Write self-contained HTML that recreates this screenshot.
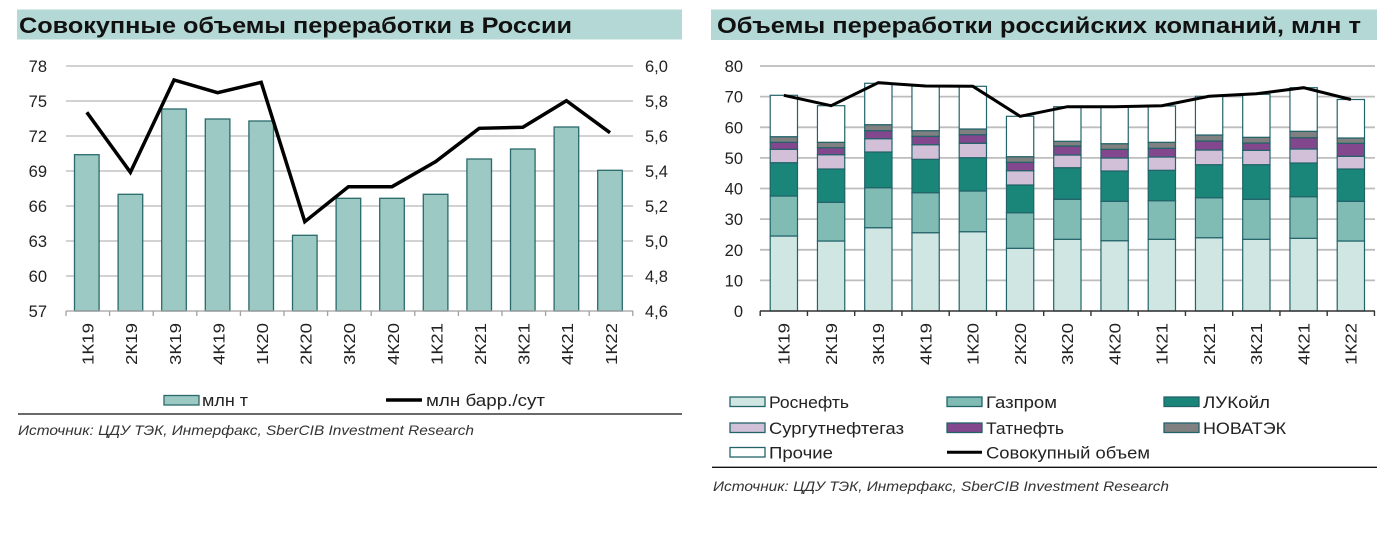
<!DOCTYPE html>
<html><head><meta charset="utf-8"><style>
html,body{margin:0;padding:0;background:#fff;}
svg{display:block;}
text{font-family:"Liberation Sans","DejaVu Sans",sans-serif;fill:#222;}
.t{font-weight:bold;font-size:22px;fill:#111;}
.yl{font-size:16.5px;}
.xl{font-size:16px;}
.lg{font-size:17px;}
.src{font-style:italic;font-size:14px;fill:#333;}
</style></head><body>
<svg width="1389" height="546" viewBox="0 0 1389 546" xmlns="http://www.w3.org/2000/svg">
<rect width="1389" height="546" fill="#fff"/>

<!-- ================= LEFT CHART ================= -->
<rect x="17" y="9.5" width="665" height="30" fill="#b3d8d5"/>
<text class="t" x="19" y="33" textLength="553" lengthAdjust="spacingAndGlyphs">Совокупные объемы переработки в России</text>

<g stroke="#c3c3c3" stroke-width="1.5">
<line x1="66" y1="66" x2="633" y2="66"/>
<line x1="66" y1="101" x2="633" y2="101"/>
<line x1="66" y1="136" x2="633" y2="136"/>
<line x1="66" y1="171" x2="633" y2="171"/>
<line x1="66" y1="206" x2="633" y2="206"/>
<line x1="66" y1="241" x2="633" y2="241"/>
<line x1="66" y1="276" x2="633" y2="276"/>
</g>

<g fill="#9cc9c4" stroke="#2a6a6b" stroke-width="1.3">
<rect x="74.5" y="154.7" width="24.6" height="156.3"/>
<rect x="118.1" y="194.3" width="24.6" height="116.7"/>
<rect x="161.7" y="109" width="24.6" height="202"/>
<rect x="205.3" y="119" width="24.6" height="192"/>
<rect x="248.9" y="121" width="24.6" height="190"/>
<rect x="292.5" y="235.3" width="24.6" height="75.7"/>
<rect x="336.1" y="198.3" width="24.6" height="112.7"/>
<rect x="379.7" y="198.3" width="24.6" height="112.7"/>
<rect x="423.3" y="194.3" width="24.6" height="116.7"/>
<rect x="466.9" y="159" width="24.6" height="152"/>
<rect x="510.5" y="149" width="24.6" height="162"/>
<rect x="554.1" y="127" width="24.6" height="184"/>
<rect x="597.7" y="170.3" width="24.6" height="140.7"/>
</g>

<g stroke="#a0a0a0" stroke-width="1.3">
<line x1="66" y1="311" x2="633" y2="311"/>
<line x1="66" y1="311" x2="66" y2="316"/>
<line x1="109.6" y1="311" x2="109.6" y2="316"/>
<line x1="153.2" y1="311" x2="153.2" y2="316"/>
<line x1="196.8" y1="311" x2="196.8" y2="316"/>
<line x1="240.4" y1="311" x2="240.4" y2="316"/>
<line x1="284" y1="311" x2="284" y2="316"/>
<line x1="327.6" y1="311" x2="327.6" y2="316"/>
<line x1="371.2" y1="311" x2="371.2" y2="316"/>
<line x1="414.8" y1="311" x2="414.8" y2="316"/>
<line x1="458.4" y1="311" x2="458.4" y2="316"/>
<line x1="502" y1="311" x2="502" y2="316"/>
<line x1="545.6" y1="311" x2="545.6" y2="316"/>
<line x1="589.2" y1="311" x2="589.2" y2="316"/>
<line x1="632.8" y1="311" x2="632.8" y2="316"/>
</g>

<polyline fill="none" stroke="#000" stroke-width="3.5" stroke-linejoin="miter"
points="86.8,112.3 130.4,172.3 174,80 217.6,92.7 261.2,82.3 304.8,221.7 348.4,186.7 392,186.7 435.6,161.7 479.2,128.3 522.8,127.3 566.4,100.7 610,132.7"/>

<g class="yl" text-anchor="end">
<text x="47" y="72">78</text>
<text x="47" y="107">75</text>
<text x="47" y="142">72</text>
<text x="47" y="177">69</text>
<text x="47" y="212">66</text>
<text x="47" y="247">63</text>
<text x="47" y="282">60</text>
<text x="47" y="317">57</text>
</g>
<g class="yl">
<text x="645" y="72">6,0</text>
<text x="645" y="107">5,8</text>
<text x="645" y="142">5,6</text>
<text x="645" y="177">5,4</text>
<text x="645" y="212">5,2</text>
<text x="645" y="247">5,0</text>
<text x="645" y="282">4,8</text>
<text x="645" y="317">4,6</text>
</g>

<g class="xl" text-anchor="end">
<text transform="translate(93.6,323) rotate(-90)" textLength="42" lengthAdjust="spacingAndGlyphs">1К19</text>
<text transform="translate(137.2,323) rotate(-90)" textLength="42" lengthAdjust="spacingAndGlyphs">2К19</text>
<text transform="translate(180.8,323) rotate(-90)" textLength="42" lengthAdjust="spacingAndGlyphs">3К19</text>
<text transform="translate(224.4,323) rotate(-90)" textLength="42" lengthAdjust="spacingAndGlyphs">4К19</text>
<text transform="translate(268,323) rotate(-90)" textLength="42" lengthAdjust="spacingAndGlyphs">1К20</text>
<text transform="translate(311.6,323) rotate(-90)" textLength="42" lengthAdjust="spacingAndGlyphs">2К20</text>
<text transform="translate(355.2,323) rotate(-90)" textLength="42" lengthAdjust="spacingAndGlyphs">3К20</text>
<text transform="translate(398.8,323) rotate(-90)" textLength="42" lengthAdjust="spacingAndGlyphs">4К20</text>
<text transform="translate(442.4,323) rotate(-90)" textLength="42" lengthAdjust="spacingAndGlyphs">1К21</text>
<text transform="translate(486,323) rotate(-90)" textLength="42" lengthAdjust="spacingAndGlyphs">2К21</text>
<text transform="translate(529.6,323) rotate(-90)" textLength="42" lengthAdjust="spacingAndGlyphs">3К21</text>
<text transform="translate(573.2,323) rotate(-90)" textLength="42" lengthAdjust="spacingAndGlyphs">4К21</text>
<text transform="translate(616.8,323) rotate(-90)" textLength="42" lengthAdjust="spacingAndGlyphs">1К22</text>
</g>

<!-- left legend -->
<rect x="164" y="395.5" width="35" height="9.5" fill="#9cc9c4" stroke="#2a6a6b" stroke-width="1.3"/>
<text class="lg" x="202" y="406" textLength="46" lengthAdjust="spacingAndGlyphs">млн т</text>
<line x1="386" y1="400" x2="422" y2="400" stroke="#000" stroke-width="3.5"/>
<text class="lg" x="426" y="406" textLength="119" lengthAdjust="spacingAndGlyphs">млн барр./сут</text>

<line x1="18" y1="414" x2="682" y2="414" stroke="#111" stroke-width="1.3"/>
<text class="src" x="18" y="435" textLength="456" lengthAdjust="spacingAndGlyphs">Источник: ЦДУ ТЭК, Интерфакс, SberCIB Investment Research</text>

<!-- ================= RIGHT CHART ================= -->
<rect x="711" y="9.5" width="666" height="30.5" fill="#b3d8d5"/>
<text class="t" x="717" y="33" textLength="644" lengthAdjust="spacingAndGlyphs">Объемы переработки российских компаний, млн т</text>

<g stroke="#bdbdbd" stroke-width="1.8">
<line x1="760" y1="66" x2="1375" y2="66"/>
<line x1="760" y1="96.6" x2="1375" y2="96.6"/>
<line x1="760" y1="127.3" x2="1375" y2="127.3"/>
<line x1="760" y1="157.9" x2="1375" y2="157.9"/>
<line x1="760" y1="188.5" x2="1375" y2="188.5"/>
<line x1="760" y1="219.1" x2="1375" y2="219.1"/>
<line x1="760" y1="249.8" x2="1375" y2="249.8"/>
<line x1="760" y1="280.4" x2="1375" y2="280.4"/>
</g>

<g stroke="#22636a" stroke-width="1.2">
<!-- i0 -->
<rect x="770.2" y="236" width="27.3" height="75" fill="#cfe6e3"/>
<rect x="770.2" y="196" width="27.3" height="40" fill="#80bbb4"/>
<rect x="770.2" y="162.7" width="27.3" height="33.3" fill="#1a8579"/>
<rect x="770.2" y="149.3" width="27.3" height="13.4" fill="#d1c0d7"/>
<rect x="770.2" y="142.3" width="27.3" height="7" fill="#82478c"/>
<rect x="770.2" y="136.7" width="27.3" height="5.6" fill="#808080"/>
<rect x="770.2" y="95.3" width="27.3" height="41.4" fill="#fff"/>
<!-- i1 -->
<rect x="817.45" y="241" width="27.3" height="70" fill="#cfe6e3"/>
<rect x="817.45" y="202.3" width="27.3" height="38.7" fill="#80bbb4"/>
<rect x="817.45" y="169" width="27.3" height="33.3" fill="#1a8579"/>
<rect x="817.45" y="154.7" width="27.3" height="14.3" fill="#d1c0d7"/>
<rect x="817.45" y="147.7" width="27.3" height="7" fill="#82478c"/>
<rect x="817.45" y="142.3" width="27.3" height="5.4" fill="#808080"/>
<rect x="817.45" y="105.7" width="27.3" height="36.6" fill="#fff"/>
<!-- i2 -->
<rect x="864.7" y="227.7" width="27.3" height="83.3" fill="#cfe6e3"/>
<rect x="864.7" y="187.7" width="27.3" height="40" fill="#80bbb4"/>
<rect x="864.7" y="152" width="27.3" height="35.7" fill="#1a8579"/>
<rect x="864.7" y="138.7" width="27.3" height="13.3" fill="#d1c0d7"/>
<rect x="864.7" y="130.7" width="27.3" height="8" fill="#82478c"/>
<rect x="864.7" y="124.7" width="27.3" height="6" fill="#808080"/>
<rect x="864.7" y="83.3" width="27.3" height="41.4" fill="#fff"/>
<!-- i3 -->
<rect x="911.95" y="232.7" width="27.3" height="78.3" fill="#cfe6e3"/>
<rect x="911.95" y="192.7" width="27.3" height="40" fill="#80bbb4"/>
<rect x="911.95" y="159.3" width="27.3" height="33.4" fill="#1a8579"/>
<rect x="911.95" y="144.7" width="27.3" height="14.6" fill="#d1c0d7"/>
<rect x="911.95" y="136.3" width="27.3" height="8.4" fill="#82478c"/>
<rect x="911.95" y="130.7" width="27.3" height="5.6" fill="#808080"/>
<rect x="911.95" y="86" width="27.3" height="44.7" fill="#fff"/>
<!-- i4 -->
<rect x="959.2" y="231.7" width="27.3" height="79.3" fill="#cfe6e3"/>
<rect x="959.2" y="191" width="27.3" height="40.7" fill="#80bbb4"/>
<rect x="959.2" y="157.7" width="27.3" height="33.3" fill="#1a8579"/>
<rect x="959.2" y="143.3" width="27.3" height="14.4" fill="#d1c0d7"/>
<rect x="959.2" y="134.7" width="27.3" height="8.6" fill="#82478c"/>
<rect x="959.2" y="129" width="27.3" height="5.7" fill="#808080"/>
<rect x="959.2" y="86.3" width="27.3" height="42.7" fill="#fff"/>
<!-- i5 -->
<rect x="1006.45" y="248.3" width="27.3" height="62.7" fill="#cfe6e3"/>
<rect x="1006.45" y="212.7" width="27.3" height="35.6" fill="#80bbb4"/>
<rect x="1006.45" y="185" width="27.3" height="27.7" fill="#1a8579"/>
<rect x="1006.45" y="170.7" width="27.3" height="14.3" fill="#d1c0d7"/>
<rect x="1006.45" y="162.3" width="27.3" height="8.4" fill="#82478c"/>
<rect x="1006.45" y="156.7" width="27.3" height="5.6" fill="#808080"/>
<rect x="1006.45" y="116.3" width="27.3" height="40.4" fill="#fff"/>
<!-- i6 -->
<rect x="1053.7" y="239.3" width="27.3" height="71.7" fill="#cfe6e3"/>
<rect x="1053.7" y="199.3" width="27.3" height="40" fill="#80bbb4"/>
<rect x="1053.7" y="167.7" width="27.3" height="31.6" fill="#1a8579"/>
<rect x="1053.7" y="155" width="27.3" height="12.7" fill="#d1c0d7"/>
<rect x="1053.7" y="146" width="27.3" height="9" fill="#82478c"/>
<rect x="1053.7" y="141.3" width="27.3" height="4.7" fill="#808080"/>
<rect x="1053.7" y="106.7" width="27.3" height="34.6" fill="#fff"/>
<!-- i7 -->
<rect x="1100.95" y="240.7" width="27.3" height="70.3" fill="#cfe6e3"/>
<rect x="1100.95" y="201.3" width="27.3" height="39.4" fill="#80bbb4"/>
<rect x="1100.95" y="171" width="27.3" height="30.3" fill="#1a8579"/>
<rect x="1100.95" y="158" width="27.3" height="13" fill="#d1c0d7"/>
<rect x="1100.95" y="149.3" width="27.3" height="8.7" fill="#82478c"/>
<rect x="1100.95" y="143.7" width="27.3" height="5.6" fill="#808080"/>
<rect x="1100.95" y="106.7" width="27.3" height="37" fill="#fff"/>
<!-- i8 -->
<rect x="1148.2" y="239.3" width="27.3" height="71.7" fill="#cfe6e3"/>
<rect x="1148.2" y="200.7" width="27.3" height="38.6" fill="#80bbb4"/>
<rect x="1148.2" y="170.3" width="27.3" height="30.4" fill="#1a8579"/>
<rect x="1148.2" y="157" width="27.3" height="13.3" fill="#d1c0d7"/>
<rect x="1148.2" y="148.3" width="27.3" height="8.7" fill="#82478c"/>
<rect x="1148.2" y="142.3" width="27.3" height="6" fill="#808080"/>
<rect x="1148.2" y="106" width="27.3" height="36.3" fill="#fff"/>
<!-- i9 -->
<rect x="1195.45" y="237.7" width="27.3" height="73.3" fill="#cfe6e3"/>
<rect x="1195.45" y="197.7" width="27.3" height="40" fill="#80bbb4"/>
<rect x="1195.45" y="164.7" width="27.3" height="33" fill="#1a8579"/>
<rect x="1195.45" y="150" width="27.3" height="14.7" fill="#d1c0d7"/>
<rect x="1195.45" y="141" width="27.3" height="9" fill="#82478c"/>
<rect x="1195.45" y="135" width="27.3" height="6" fill="#808080"/>
<rect x="1195.45" y="96.3" width="27.3" height="38.7" fill="#fff"/>
<!-- i10 -->
<rect x="1242.7" y="239.3" width="27.3" height="71.7" fill="#cfe6e3"/>
<rect x="1242.7" y="199.3" width="27.3" height="40" fill="#80bbb4"/>
<rect x="1242.7" y="164.7" width="27.3" height="34.6" fill="#1a8579"/>
<rect x="1242.7" y="150.3" width="27.3" height="14.4" fill="#d1c0d7"/>
<rect x="1242.7" y="143" width="27.3" height="7.3" fill="#82478c"/>
<rect x="1242.7" y="137.3" width="27.3" height="5.7" fill="#808080"/>
<rect x="1242.7" y="94.3" width="27.3" height="43" fill="#fff"/>
<!-- i11 -->
<rect x="1289.95" y="238.3" width="27.3" height="72.7" fill="#cfe6e3"/>
<rect x="1289.95" y="196.7" width="27.3" height="41.6" fill="#80bbb4"/>
<rect x="1289.95" y="163" width="27.3" height="33.7" fill="#1a8579"/>
<rect x="1289.95" y="149" width="27.3" height="14" fill="#d1c0d7"/>
<rect x="1289.95" y="137.7" width="27.3" height="11.3" fill="#82478c"/>
<rect x="1289.95" y="131.3" width="27.3" height="6.4" fill="#808080"/>
<rect x="1289.95" y="87.7" width="27.3" height="43.6" fill="#fff"/>
<!-- i12 -->
<rect x="1337.2" y="241" width="27.3" height="70" fill="#cfe6e3"/>
<rect x="1337.2" y="201.3" width="27.3" height="39.7" fill="#80bbb4"/>
<rect x="1337.2" y="169" width="27.3" height="32.3" fill="#1a8579"/>
<rect x="1337.2" y="156.3" width="27.3" height="12.7" fill="#d1c0d7"/>
<rect x="1337.2" y="143.3" width="27.3" height="13" fill="#82478c"/>
<rect x="1337.2" y="138" width="27.3" height="5.3" fill="#808080"/>
<rect x="1337.2" y="99.5" width="27.3" height="38.5" fill="#fff"/>
</g>

<g stroke="#333" stroke-width="1.4">
<line x1="760" y1="311" x2="1375" y2="311"/>
<line x1="760.2" y1="311" x2="760.2" y2="316"/>
<line x1="807.45" y1="311" x2="807.45" y2="316"/>
<line x1="854.7" y1="311" x2="854.7" y2="316"/>
<line x1="901.95" y1="311" x2="901.95" y2="316"/>
<line x1="949.2" y1="311" x2="949.2" y2="316"/>
<line x1="996.45" y1="311" x2="996.45" y2="316"/>
<line x1="1043.7" y1="311" x2="1043.7" y2="316"/>
<line x1="1090.95" y1="311" x2="1090.95" y2="316"/>
<line x1="1138.2" y1="311" x2="1138.2" y2="316"/>
<line x1="1185.45" y1="311" x2="1185.45" y2="316"/>
<line x1="1232.7" y1="311" x2="1232.7" y2="316"/>
<line x1="1279.95" y1="311" x2="1279.95" y2="316"/>
<line x1="1327.2" y1="311" x2="1327.2" y2="316"/>
<line x1="1374.45" y1="311" x2="1374.45" y2="316"/>
</g>

<polyline fill="none" stroke="#000" stroke-width="3"
points="783.85,95.3 831.1,105.7 878.35,82.7 925.6,86 972.85,86.3 1020.1,116.3 1067.35,106.7 1114.6,106.7 1161.85,105.7 1209.1,96.3 1256.35,93.7 1303.6,87.7 1350.85,99.5"/>

<g class="yl" text-anchor="end">
<text x="743" y="72">80</text>
<text x="743" y="102.6">70</text>
<text x="743" y="133.3">60</text>
<text x="743" y="163.9">50</text>
<text x="743" y="194.5">40</text>
<text x="743" y="225.1">30</text>
<text x="743" y="255.8">20</text>
<text x="743" y="286.4">10</text>
<text x="743" y="317">0</text>
</g>

<g class="xl" text-anchor="end">
<text transform="translate(789.65,323) rotate(-90)" textLength="42" lengthAdjust="spacingAndGlyphs">1К19</text>
<text transform="translate(836.9,323) rotate(-90)" textLength="42" lengthAdjust="spacingAndGlyphs">2К19</text>
<text transform="translate(884.15,323) rotate(-90)" textLength="42" lengthAdjust="spacingAndGlyphs">3К19</text>
<text transform="translate(931.4,323) rotate(-90)" textLength="42" lengthAdjust="spacingAndGlyphs">4К19</text>
<text transform="translate(978.65,323) rotate(-90)" textLength="42" lengthAdjust="spacingAndGlyphs">1К20</text>
<text transform="translate(1025.9,323) rotate(-90)" textLength="42" lengthAdjust="spacingAndGlyphs">2К20</text>
<text transform="translate(1073.15,323) rotate(-90)" textLength="42" lengthAdjust="spacingAndGlyphs">3К20</text>
<text transform="translate(1120.4,323) rotate(-90)" textLength="42" lengthAdjust="spacingAndGlyphs">4К20</text>
<text transform="translate(1167.65,323) rotate(-90)" textLength="42" lengthAdjust="spacingAndGlyphs">1К21</text>
<text transform="translate(1214.9,323) rotate(-90)" textLength="42" lengthAdjust="spacingAndGlyphs">2К21</text>
<text transform="translate(1262.15,323) rotate(-90)" textLength="42" lengthAdjust="spacingAndGlyphs">3К21</text>
<text transform="translate(1309.4,323) rotate(-90)" textLength="42" lengthAdjust="spacingAndGlyphs">4К21</text>
<text transform="translate(1356.65,323) rotate(-90)" textLength="42" lengthAdjust="spacingAndGlyphs">1К22</text>
</g>

<!-- right legend -->
<g stroke="#22636a" stroke-width="1.3">
<rect x="730" y="397" width="35" height="9.5" fill="#cfe6e3"/>
<rect x="947" y="397" width="35" height="9.5" fill="#80bbb4"/>
<rect x="1164" y="397" width="35" height="9.5" fill="#1a8579"/>
<rect x="730" y="423" width="35" height="9.5" fill="#d1c0d7"/>
<rect x="947" y="423" width="35" height="9.5" fill="#82478c"/>
<rect x="1164" y="423" width="35" height="9.5" fill="#808080"/>
<rect x="730" y="447.5" width="35" height="9.5" fill="#fff"/>
</g>
<line x1="947" y1="452.3" x2="982" y2="452.3" stroke="#000" stroke-width="3"/>
<g class="lg">
<text x="769" y="408" textLength="80" lengthAdjust="spacingAndGlyphs">Роснефть</text>
<text x="986" y="408" textLength="71" lengthAdjust="spacingAndGlyphs">Газпром</text>
<text x="1203" y="408" textLength="67" lengthAdjust="spacingAndGlyphs">ЛУКойл</text>
<text x="769" y="434" textLength="135" lengthAdjust="spacingAndGlyphs">Сургутнефтегаз</text>
<text x="986" y="434" textLength="78" lengthAdjust="spacingAndGlyphs">Татнефть</text>
<text x="1203" y="434" textLength="83" lengthAdjust="spacingAndGlyphs">НОВАТЭК</text>
<text x="769" y="458.5" textLength="64" lengthAdjust="spacingAndGlyphs">Прочие</text>
<text x="986" y="458.5" textLength="164" lengthAdjust="spacingAndGlyphs">Совокупный объем</text>
</g>

<line x1="712" y1="467.3" x2="1377" y2="467.3" stroke="#111" stroke-width="1.3"/>
<text class="src" x="713" y="491" textLength="456" lengthAdjust="spacingAndGlyphs">Источник: ЦДУ ТЭК, Интерфакс, SberCIB Investment Research</text>
</svg>
</body></html>
